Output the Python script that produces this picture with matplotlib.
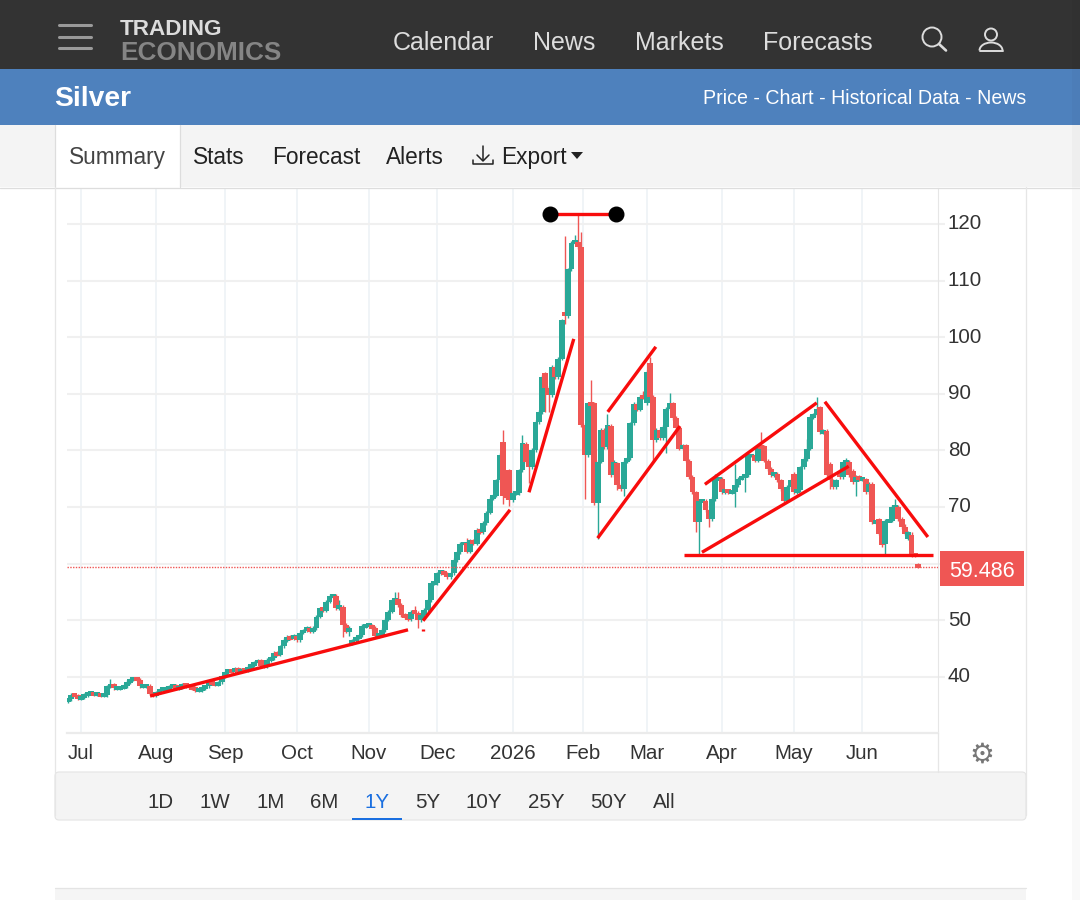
import matplotlib
matplotlib.use("Agg")
import matplotlib.pyplot as plt
from matplotlib.patches import Rectangle, Circle, FancyBboxPatch, Polygon, Arc
from matplotlib.transforms import ScaledTranslation

plt.rcParams['font.family'] = ['Liberation Sans', 'DejaVu Sans']
plt.rcParams['text.kerning_factor'] = 6

# ---------- data ----------
closes = [36.0,36.8,36.6,36.2,36.3,36.8,37.1,37.1,36.9,36.9,36.7,36.7,
          38.3,38.6,38.0,38.0,38.1,38.4,39.1,39.5,39.6,39.5,38.4,38.4,38.4,37.0,36.8,
          37.2,37.8,37.8,38.0,38.2,38.4,38.0,38.2,38.6,38.4,38.2,38.0,37.6,37.6,38.0,38.3,39.0,38.8,38.6,39.0,
          40.1,40.8,41.1,40.9,41.4,40.9,41.3,41.2,41.7,42.1,42.5,42.9,41.9,41.8,43.0,43.3,44.2,43.9,45.4,46.5,47.0,46.8,47.2,46.5,
          47.8,48.2,48.6,48.0,48.6,50.6,52.1,51.7,53.3,54.3,54.3,52.1,52.4,49.2,48.0,
          48.6,46.4,46.9,47.3,49.0,49.1,49.1,48.6,47.2,47.4,48.3,50.1,51.5,53.5,53.8,52.7,50.9,50.5,50.2,51.5,51.3,50.0,50.9,51.8,53.5,56.5,56.5,
          58.3,58.6,58.2,57.6,58.3,60.6,62.0,63.5,63.6,62.1,64.1,63.5,66.0,65.6,67.2,69.0,71.5,72.0,74.7,79.2,72.0,71.8,71.2,
          72.5,72.5,76.5,81.3,78.0,77.0,80.1,85.0,86.8,93.0,91.0,89.8,94.8,93.0,96.2,103.0,103.7,112.0,116.7,116.8,115.9,84.5,
          79.2,88.3,88.2,70.7,78.0,83.6,80.6,84.5,75.6,78.0,73.9,73.2,78.0,78.6,84.8,88.2,87.2,89.5,89.3,93.9,89.5,81.8,83.6,82.2,84.2,87.4,88.3,85.7,83.9,80.3,80.9,
          78.2,75.3,72.6,67.3,71.1,71.1,69.4,67.9,71.4,75.0,75.0,72.6,72.9,72.6,72.6,73.8,75.0,75.3,75.6,79.1,79.1,78.2,80.7,80.5,78.2,76.7,75.6,75.9,74.7,73.2,71.1,
          73.5,74.7,72.6,73.0,77.0,78.5,80.3,85.9,86.3,87.3,83.2,83.4,75.6,74.7,73.5,74.7,75.3,77.9,78.0,75.6,74.4,75.3,74.9,74.9,72.6,74.1,67.3,67.3,65.3,63.2,
          67.6,67.6,70.0,70.0,67.9,66.4,65.3,65.5,61.5,61.4,59.486]
first_open = 35.7
# candles whose open does not sit on the previous close
gap_opens = {87:46.0, 90:47.4, 133:81.5, 135:76.5, 140:81.2, 146:93.6, 152:104.5, 161:88.3, 164:83.6,
             166:84.3, 168:77.7, 177:88.3, 178:95.4, 213:80.7, 222:75.9, 230:87.6, 233:77.6, 236:76.4,
             240:76.4, 248:67.8, 250:63.4, 257:64.4, 258:65.0, 260:59.8}
high_wicks = {13:39.6, 81:54.7, 83:53.5, 100:55.0, 101:55.0, 106:52.5, 118:61.0, 122:64.5, 133:83.6, 139:82.7,
              152:117.8, 155:118.0, 156:121.8, 157:118.5, 160:92.4, 165:86.5, 176:90.5, 178:96.5, 184:90.2,
              198:75.9, 204:77.6, 212:83.2, 226:82.0, 229:89.4, 238:78.7, 253:71.4, 256:67.0, 258:65.5}
low_wicks = {84:47.0, 86:47.2, 107:48.7, 133:70.6, 135:70.1, 141:74.2, 146:86.8, 147:86.8, 152:102.4,
             158:71.5, 162:64.3, 168:73.0, 170:72.0, 179:78.0, 183:79.5, 192:65.5, 193:61.4, 196:66.5,
             204:70.0, 207:72.6, 233:73.2, 241:71.9, 250:61.4}

month_ticks = [4, 27, 48, 70, 92, 113, 136, 157.5, 177, 200, 222, 243]
month_labels = ['Jul','Aug','Sep','Oct','Nov','Dec','2026','Feb','Mar','Apr','May','Jun']
price_ticks = [40, 50, 60, 70, 80, 90, 100, 110, 120]
price_labels = ['40', '50', '', '70', '80', '90', '100', '110', '120']
last_price = 59.486

trend_lines = [((25.1,36.6),(104.0,48.3)), ((108.6,49.9),(135.2,69.5)), ((141.0,72.6),(154.7,99.7)),
               ((162.0,64.5),(187.2,84.3)), ((165.1,86.8),(179.8,98.3)), ((194.8,74.0),(229.0,88.4)),
               ((193.9,62.0),(238.8,77.2)), ((231.5,88.6),(263.0,64.7)), ((188.4,61.5),(264.5,61.5))]
top_bar = ((147.4,121.8),(167.6,121.8))
stray_marks = [((108.6,48.5),(108.6,48.1))]

nav_items = [('Calendar',443),('News',564),('Markets',679),('Forecasts',818)]
tab_items = [('Stats',219),('Forecast',316),('Alerts',415)]
range_items = [('1D',161),('1W',215),('1M',271),('6M',324),('1Y',377),('5Y',428),('10Y',484),('25Y',546),('50Y',608),('All',664)]

GREEN, RED = '#2AA897', '#EF5654'
LINE_RED = '#F80C0C'
W, H = 1080, 900

fig = plt.figure(figsize=(W/100, H/100), dpi=100, facecolor='white')

# ---------- chart ----------
L, R, T, B = 67, 938, 188, 733
ax = fig.add_axes([L/W, 1-B/H, (R-L)/W, (B-T)/H], zorder=2)
ax.set_xlim(-0.3, 266.1)
ax.set_ylim(30.07, 126.36)
ax.set_facecolor('white')
for s in ['top','left']:
    ax.spines[s].set_visible(False)
ax.spines['right'].set_color('#e6e6e6')
ax.spines['bottom'].set_color('#ebebeb')
ax.spines['bottom'].set_linewidth(1.6)
ax.set_xticks(month_ticks, month_labels)
ax.yaxis.tick_right()
ax.set_yticks(price_ticks, price_labels)
ax.tick_params(axis='x', length=0, pad=8, labelsize=14.8, labelcolor='#333333')
ax.tick_params(axis='y', length=5, width=1.5, color='#f0f0f0', pad=2, labelsize=14.8, labelcolor='#333333')
ax.grid(axis='y', color='#f0f0f0', lw=1.5, zorder=0)
ax.grid(axis='x', color='#eef2f6', lw=1.2, zorder=0)
ax.set_axisbelow(True)
for lab in ax.get_yticklabels():
    lab.set_transform(lab.get_transform() + ScaledTranslation(0, 2/100, fig.dpi_scale_trans))

for i, c in enumerate(closes):
    o = gap_opens.get(i, closes[i-1] if i else first_open)
    col = GREEN if c >= o else RED
    hi = high_wicks.get(i, max(o, c) + 0.3)
    lo = low_wicks.get(i, min(o, c) - 0.3)
    ax.vlines(i, lo, hi, color=col, lw=1.0, zorder=3)
    h = max(abs(c - o), 0.7)
    y0 = min(o, c) if abs(c - o) >= 0.7 else (o + c) / 2 - 0.35
    ax.add_patch(Rectangle((i-0.9, y0), 1.8, h, fc=col, ec='none', zorder=4))

ax.axhline(last_price, color='#EF5654', lw=1.0, ls=(0,(1,1)), zorder=5)
for (a, b) in trend_lines + [top_bar] + stray_marks:
    ax.plot([a[0], b[0]], [a[1], b[1]], color=LINE_RED, lw=2.4, solid_capstyle='butt', zorder=6)
ax.plot([top_bar[0][0], top_bar[1][0]], [top_bar[0][1]]*2, 'o', color='black', ms=10.5, zorder=7, clip_on=False)

# ---------- page furniture ----------
pg = fig.add_axes([0, 0, 1, 1], zorder=3)
pg.set_xlim(0, W); pg.set_ylim(H, 0); pg.axis('off'); pg.patch.set_alpha(0)

def rect(x0, y0, x1, y1, **kw):
    pg.add_patch(Rectangle((x0, y0), x1-x0, y1-y0, lw=kw.pop('lw', 0), **kw))

def seg(xs, ys, col, lw):
    pg.plot(xs, ys, color=col, lw=lw, solid_capstyle='round')

rect(0, 0, W, 69, fc='#333333')
rect(0, 69, W, 125, fc='#4E81BD')
rect(0, 125, W, 187, fc='#F4F4F4')
rect(55, 125, 180, 187, fc='white')
seg([54.5,54.5],[125,187],'#dddddd',0.9)
seg([180,180],[125,187],'#dddddd',0.9)
seg([0,W],[187.5,187.5],'#dddddd',0.9)
seg([54.5,54.5],[187,815],'#e6e6e6',0.9)
seg([1025.5,1025.5],[187,815],'#e6e6e6',0.9)
seg([938,938],[733,772],'#e6e6e6',0.9)

for y in (25, 37, 48):
    seg([59, 91], [y, y], '#9a9a9a', 2.2)
pg.text(120, 29.5, 'TRADING', color='#dcdcdc', fontsize=16.2, fontweight='bold', va='center', ha='left')
pg.text(120, 52.5, 'ECONOMICS', color='#858585', fontsize=18.8, fontweight='bold', va='center', ha='left')
for s, x in nav_items:
    pg.text(x, 43, s, color='#dddddd', fontsize=18, va='center', ha='center')
pg.add_patch(Circle((932, 37), 9.5, fc='none', ec='#dcdcdc', lw=1.4))
seg([939, 946], [44, 50.5], '#dcdcdc', 1.9)
pg.add_patch(Circle((991, 34.5), 6, fc='none', ec='#dcdcdc', lw=1.4))
pg.add_patch(Arc((991, 50.5), 23, 16, theta1=180, theta2=360, ec='#dcdcdc', lw=1.4))
seg([979.5, 1002.5], [50.5, 50.5], '#dcdcdc', 1.4)

pg.text(54.5, 99, 'Silver', color='white', fontsize=20.3, fontweight='bold', va='center', ha='left')
pg.text(1026, 98, 'Price - Chart - Historical Data - News', color='white', fontsize=14.1, va='center', ha='right')

pg.text(117, 157.5, 'Summary', color='#444444', fontsize=16.3, va='center', ha='center')
for s, x in tab_items:
    pg.text(x, 157.5, s, color='#222222', fontsize=16.3, va='center', ha='center')
pg.text(501, 157.5, 'Export', color='#222222', fontsize=16.3, va='center', ha='left')
pg.add_patch(Polygon([(571,152),(583,152),(577,159)], fc='#222222', ec='none'))
seg([483,483],[146,160],'#222222',1.1)
seg([477,483,489],[155,161,155],'#222222',1.1)
seg([473,473,493,493],[160,164,164,160],'#222222',1.1)

# price tag
rect(940, 551, 1024, 586, fc='#EF5654')
pg.text(982, 571.5, '59.486', color='white', fontsize=15.5, va='center', ha='center')
pg.text(982, 755, '\u2699', color='#777777', fontsize=20, va='center', ha='center', family='DejaVu Sans')

# range bar
pg.add_patch(FancyBboxPatch((55, 772), 971, 48, boxstyle='round,pad=0,rounding_size=4', fc='#F4F4F4', ec='#e4e4e4', lw=0.8))
for s, x in range_items:
    pg.text(x, 803, s, color='#1A6FE0' if s == '1Y' else '#333333', fontsize=14.8, va='center', ha='center')
rect(352, 817.5, 402, 820, fc='#1A6FE0')

# strip at the bottom of the page
rect(55, 888, 1026, 900, fc='#F5F5F5')
seg([55, 1026], [888, 888], '#e4e4e4', 0.9)
rect(1072, 0, 1080, 900, fc='black', alpha=0.025)

fig.savefig('out.png', dpi=100)
